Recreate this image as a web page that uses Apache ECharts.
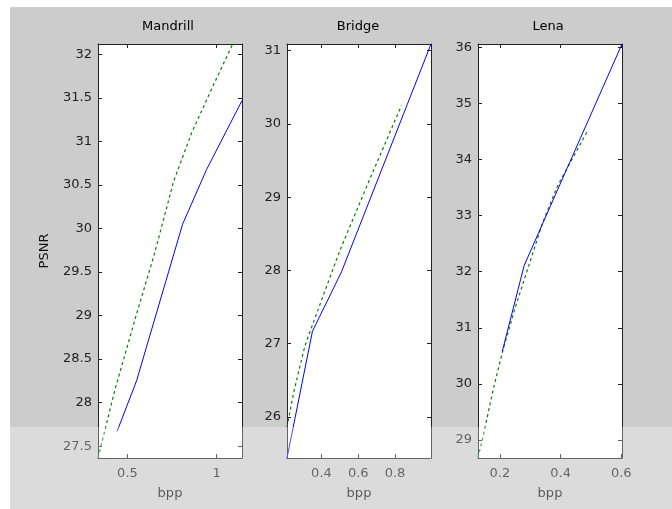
<!DOCTYPE html>
<html>
<head>
<meta charset="utf-8">
<script src="https://cdn.jsdelivr.net/npm/echarts@6.0.0/dist/echarts.min.js"></script>
<style>
html,body{margin:0;padding:0;background:#fff;}
#chart{width:672px;height:509px;}
</style>
</head>
<body>
<div id="chart"></div>
<script>
// ---- data ----
var panelTitles = ['Mandrill', 'Bridge', 'Lena'];

var mandrillBlueBpp  = [0.442, 0.551, 0.809, 0.944, 1.142];
var mandrillBluePsnr = [27.67, 28.25, 30.05, 30.68, 31.47];
var mandrillGreenBpp  = [0.335, 0.43, 0.55, 0.65, 0.76, 0.86, 0.98, 1.09];
var mandrillGreenPsnr = [27.364, 28.15, 29.01, 29.70, 30.55, 31.10, 31.64, 32.12];

var bridgeBlueBpp  = [0.2125, 0.351, 0.509, 0.996];
var bridgeBluePsnr = [25.44, 27.17, 27.98, 31.09];
var bridgeGreenBpp  = [0.2125, 0.25, 0.31, 0.35, 0.5, 0.65, 0.835];
var bridgeGreenPsnr = [25.86, 26.35, 26.97, 27.25, 28.27, 29.17, 30.25];

var lenaBlueBpp  = [0.208, 0.28, 0.6023];
var lenaBluePsnr = [30.58, 32.11, 36.057];
var lenaGreenBpp  = [0.128, 0.145, 0.178, 0.21, 0.25, 0.29, 0.34, 0.39, 0.487];
var lenaGreenPsnr = [28.68, 29.07, 29.9, 30.6, 31.35, 32.02, 32.86, 33.53, 34.49];

var mandrillXTicks = [0.5, 1];
var mandrillYTicks = [27.5, 28, 28.5, 29, 29.5, 30, 30.5, 31, 31.5, 32];
var bridgeXTicks = [0.4, 0.6, 0.8];
var bridgeYTicks = [26, 27, 28, 29, 30, 31];
var lenaXTicks = [0.2, 0.4, 0.6];
var lenaYTicks = [29, 30, 31, 32, 33, 34, 35, 36];

var xRanges = [[0.335, 1.142], [0.2125, 0.996], [0.128, 0.6023]];
var yRanges = [[27.364, 32.12], [25.44, 31.09], [28.68, 36.057]];

// ---- build ----
function zip(a, b) { return a.map(function (v, i) { return [v, b[i]]; }); }

var xTicks = [mandrillXTicks, bridgeXTicks, lenaXTicks];
var yTicks = [mandrillYTicks, bridgeYTicks, lenaYTicks];
var blue = [zip(mandrillBlueBpp, mandrillBluePsnr), zip(bridgeBlueBpp, bridgeBluePsnr), zip(lenaBlueBpp, lenaBluePsnr)];
var green = [zip(mandrillGreenBpp, mandrillGreenPsnr), zip(bridgeGreenBpp, bridgeGreenPsnr), zip(lenaGreenBpp, lenaGreenPsnr)];

var gridLefts = [98, 287, 478];
var titleX = [168, 358, 548];
var FONT = 'DejaVu Sans';
var axisColor = '#222';

var grids = [], xAxes = [], yAxes = [], series = [], graphics = [];

graphics.push({ type: 'rect', shape: { x: 10, y: 7, width: 662, height: 502 }, style: { fill: '#cccccc' }, z: -100, silent: true });

for (var i = 0; i < 3; i++) {
  grids.push({ left: gridLefts[i], top: 44, width: 144, height: 414, show: true, backgroundColor: '#ffffff', borderWidth: 0 });
  var lineStyle = { color: axisColor, width: 1 };
  var tickBase = { inside: true, length: 4, lineStyle: { color: axisColor } };
  // bottom x
  xAxes.push({
    type: 'value', gridIndex: i, position: 'bottom', min: xRanges[i][0], max: xRanges[i][1],
    axisLine: { show: true, onZero: false, lineStyle: lineStyle },
    axisTick: Object.assign({ customValues: xTicks[i] }, tickBase),
    axisLabel: { customValues: xTicks[i], margin: 9, color: '#222', fontFamily: FONT, fontSize: 13 },
    splitLine: { show: false },
    name: 'bpp', nameLocation: 'middle', nameGap: 29,
    nameTextStyle: { color: '#111', fontFamily: FONT, fontSize: 13 }
  });
  // top x
  xAxes.push({
    type: 'value', gridIndex: i, position: 'top', min: xRanges[i][0], max: xRanges[i][1],
    axisLine: { show: true, onZero: false, lineStyle: lineStyle },
    axisTick: Object.assign({ customValues: xTicks[i] }, tickBase),
    axisLabel: { show: false },
    splitLine: { show: false }
  });
  var yLeft = {
    type: 'value', gridIndex: i, position: 'left', min: yRanges[i][0], max: yRanges[i][1],
    axisLine: { show: true, onZero: false, lineStyle: lineStyle },
    axisTick: Object.assign({ customValues: yTicks[i] }, tickBase),
    axisLabel: { customValues: yTicks[i], margin: 6, color: '#222', fontFamily: FONT, fontSize: 13 },
    splitLine: { show: false }
  };
  if (i === 0) {
    yLeft.name = 'PSNR';
    yLeft.nameLocation = 'middle';
    yLeft.nameGap = 47;
    yLeft.nameTextStyle = { color: '#111', fontFamily: FONT, fontSize: 13 };
  }
  yAxes.push(yLeft);
  yAxes.push({
    type: 'value', gridIndex: i, position: 'right', min: yRanges[i][0], max: yRanges[i][1],
    axisLine: { show: true, onZero: false, lineStyle: lineStyle },
    axisTick: Object.assign({ customValues: yTicks[i] }, tickBase),
    axisLabel: { show: false },
    splitLine: { show: false }
  });

  series.push({
    type: 'line', xAxisIndex: 2 * i, yAxisIndex: 2 * i, data: green[i],
    showSymbol: false, symbol: 'none', animation: false, clip: true,
    lineStyle: { color: '#008000', width: 1.2, type: [3, 3] }
  });
  series.push({
    type: 'line', xAxisIndex: 2 * i, yAxisIndex: 2 * i, data: blue[i],
    showSymbol: false, symbol: 'none', animation: false, clip: true,
    lineStyle: { color: '#0000ff', width: 1 }
  });

  graphics.push({
    type: 'text', x: titleX[i], y: 27, z: 10,
    style: { text: panelTitles[i], fill: '#000', font: '13px "DejaVu Sans"', textAlign: 'center', textVerticalAlign: 'middle' }
  });
}

// light band at the bottom of the scanned figure
graphics.push({ type: 'rect', shape: { x: 10, y: 427, width: 662, height: 82 }, style: { fill: 'rgba(255,255,255,0.3)' }, z: 100, silent: true });

var chart = echarts.init(document.getElementById('chart'), null, { renderer: 'canvas' });
chart.setOption({
  animation: false,
  backgroundColor: '#ffffff',
  grid: grids,
  xAxis: xAxes,
  yAxis: yAxes,
  series: series,
  graphic: graphics
});
</script>
</body>
</html>
